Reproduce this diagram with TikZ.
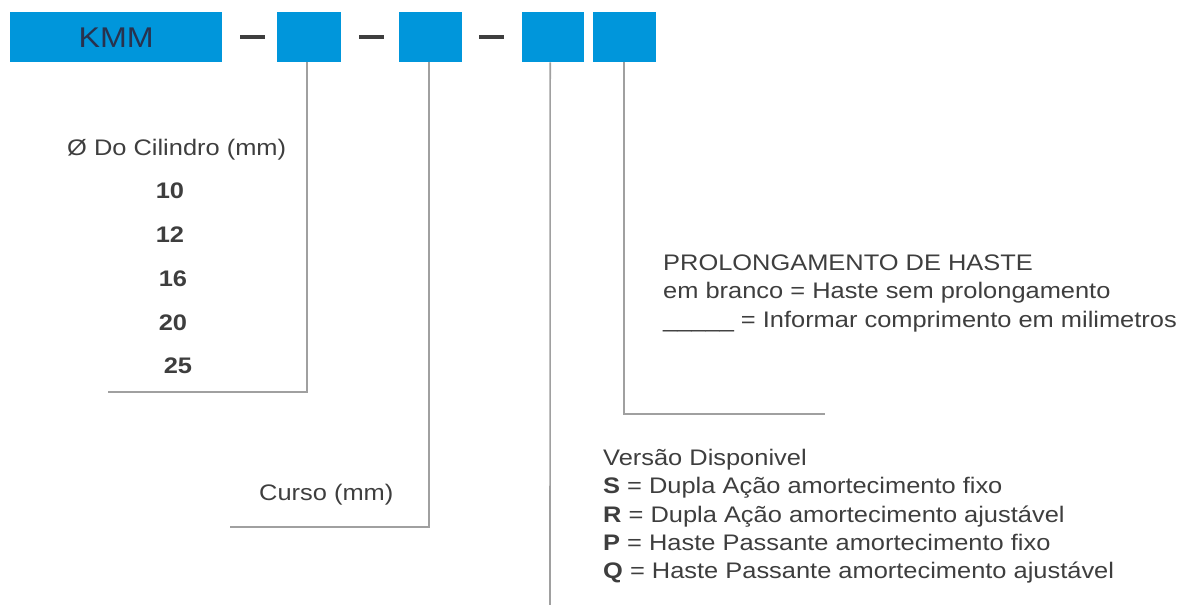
\documentclass[tikz,border=0pt]{standalone}
\usepackage{fontspec}
\setmainfont[FakeStretch=1.13]{Liberation Sans}
\definecolor{kblue}{RGB}{0,150,219}
\definecolor{ktext}{RGB}{62,62,62}
\definecolor{kmmtext}{RGB}{40,50,78}
\definecolor{kline}{RGB}{160,160,160}
\begin{document}
\begin{tikzpicture}[x=1pt,y=-1pt,
  codebox/.style={fill=kblue,draw=none,inner sep=0pt,anchor=north west},
  dashbar/.style={fill=ktext,draw=none,inner sep=0pt,minimum width=25pt,minimum height=4.5pt},
  conn/.style={draw=kline,line width=1.6pt},
  lbl/.style={inner sep=0pt,anchor=base west,text=ktext,font=\fontsize{22.5}{27}\selectfont},
  num/.style={inner sep=0pt,anchor=base,text=ktext,font=\fontsize{22.5}{27}\selectfont\bfseries}]
\useasboundingbox (0,0) rectangle (1181,605);
% code boxes
\node[codebox,minimum width=212pt,minimum height=50pt] (kmm) at (10,12) {};
\node[text=kmmtext,font=\fontsize{28.5}{32}\selectfont,inner sep=0pt] (kmmtxt) at (kmm.center) {KMM};
\node[codebox,minimum width=64pt,minimum height=50pt] (b2) at (277,12) {};
\node[codebox,minimum width=63pt,minimum height=50pt] (b3) at (399,12) {};
\node[codebox,minimum width=62pt,minimum height=50pt] (b4) at (522,12) {};
\node[codebox,minimum width=63pt,minimum height=50pt] (b5) at (593,12) {};
% dashes
\node[dashbar] (d1) at (252,37) {};
\node[dashbar] (d2) at (371.5,37) {};
\node[dashbar] (d3) at (491.5,37) {};
% end points
\coordinate (e1) at (108,392);
\coordinate (e2) at (230,527);
\coordinate (e3) at (550,605);
\coordinate (e4) at (825,414);
% connectors
\draw[conn] ([xshift=-2pt]b2.south) |- (e1);
\draw[conn] ([xshift=-1.5pt]b3.south) |- (e2);
\draw[conn] ([xshift=-3pt]b4.south) -- (e3);
\draw[conn] ([xshift=-0.5pt]b5.south) |- (e4);
% cylinder diameter
\node[lbl] (dia) at (67,155) {Ø Do Cilindro (mm)};
\node[num] (n10) at (170,198) {10};
\node[num] (n12) at (170,242) {12};
\node[num] (n16) at (173,286) {16};
\node[num] (n20) at (173,330) {20};
\node[num] (n25) at (178,373) {25};
% stroke
\node[lbl] (curso) at (259,500) {Curso (mm)};
% rod extension
\node[lbl] (pr1) at (663,270) {PROLONGAMENTO DE HASTE};
\node[lbl] (pr2) at (663,298) {em branco = Haste sem prolongamento};
\node[lbl] (pr3) at (663,327) {\_\_\_\_\_ = Informar comprimento em milimetros};
% versions
\node[lbl] (v0) at (603,465) {Versão Disponivel};
\node[lbl] (v1) at (603,493) {\textbf{S} = Dupla Ação amortecimento fixo};
\node[lbl] (v2) at (603,522) {\textbf{R} = Dupla Ação amortecimento ajustável};
\node[lbl] (v3) at (603,550) {\textbf{P} = Haste Passante amortecimento fixo};
\node[lbl] (v4) at (603,578) {\textbf{Q} = Haste Passante amortecimento ajustável};
\end{tikzpicture}
\end{document}
